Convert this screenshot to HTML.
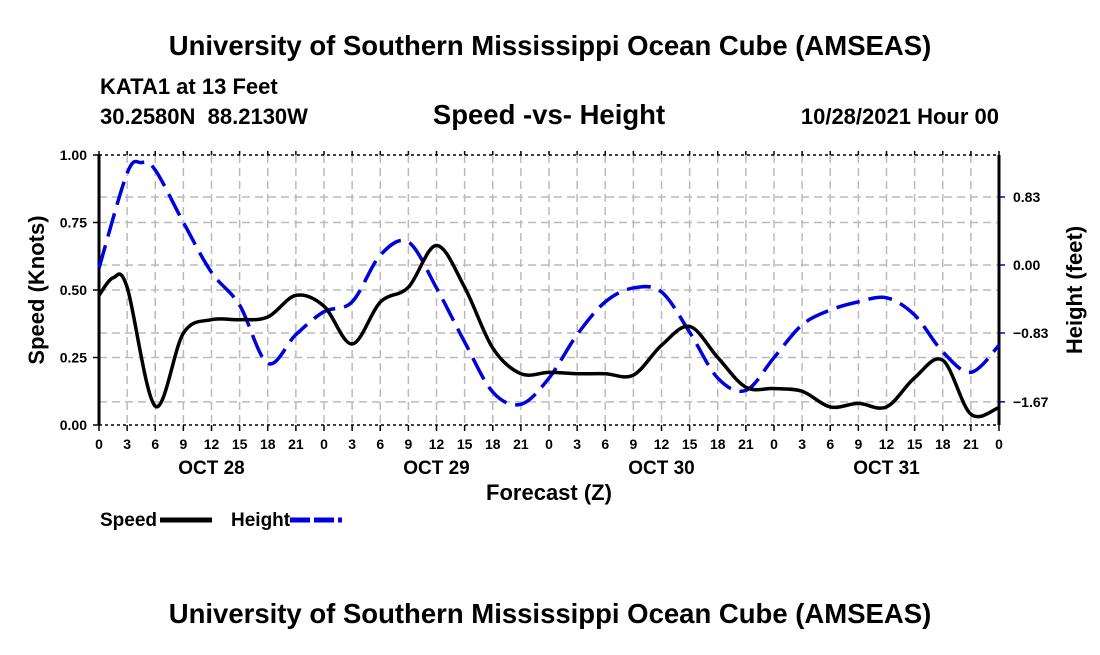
<!DOCTYPE html>
<html><head><meta charset="utf-8"><style>
body{margin:0;background:#fff;}
svg text{font-family:"Liberation Sans",Arial,sans-serif;font-weight:bold;fill:#000;}
</style></head><body>
<svg id="c" width="1100" height="650" viewBox="0 0 1100 650" xmlns="http://www.w3.org/2000/svg">
<text x="550" y="55" font-size="27.5" text-anchor="middle">University of Southern Mississippi Ocean Cube (AMSEAS)</text>
<text x="100" y="94" font-size="22">KATA1 at 13 Feet</text>
<text x="100" y="124" font-size="22" xml:space="preserve">30.2580N  88.2130W</text>
<text x="549" y="124" font-size="27.5" text-anchor="middle">Speed -vs- Height</text>
<text x="999" y="124" font-size="22" text-anchor="end">10/28/2021 Hour 00</text>
<text x="549" y="500" font-size="22" text-anchor="middle">Forecast (Z)</text>
<text transform="translate(44,290) rotate(-90)" font-size="22" text-anchor="middle">Speed (Knots)</text>
<text transform="translate(1082,290) rotate(-90)" font-size="22" text-anchor="middle">Height (feet)</text>
<g>
<text x="100" y="526" font-size="19">Speed</text>
<line x1="160" y1="520" x2="212" y2="520" stroke="#000" stroke-width="5"/>
<text x="231" y="526" font-size="19">Height</text>
<line x1="290" y1="520" x2="342" y2="520" stroke="#0000dd" stroke-width="5" stroke-dasharray="20,4"/>
</g>
<text x="550" y="623" font-size="27.5" text-anchor="middle">University of Southern Mississippi Ocean Cube (AMSEAS)</text>
<g id="plot"></g>
</svg>
<script>
const speedHours=[0,1.5,3,6,9,12,15,18,21,24,27,30,33,36,39,42,45,48,51,54,57,60,63,66,69,72,75,78,81,84,87,90,93,96];
const speedValues=[0.48,0.545,0.51,0.07,0.34,0.39,0.39,0.40,0.48,0.44,0.30,0.455,0.51,0.665,0.51,0.285,0.19,0.195,0.19,0.19,0.185,0.295,0.365,0.25,0.14,0.135,0.125,0.067,0.08,0.067,0.175,0.24,0.04,0.065];
const heightHours=[0,3,4.5,6,9,12,15,18,21,24,27,30,33,36,39,42,45,48,51,54,57,60,63,66,69,72,75,78,81,84,87,90,93,96];
const heightValues=[-0.04,1.12,1.25,1.16,0.52,-0.09,-0.49,-1.20,-0.85,-0.57,-0.45,0.12,0.28,-0.28,-0.94,-1.55,-1.70,-1.38,-0.85,-0.45,-0.28,-0.33,-0.82,-1.38,-1.53,-1.13,-0.73,-0.55,-0.45,-0.40,-0.61,-1.06,-1.31,-0.98];
const speedTicks=[0,0.25,0.5,0.75,1.0];
const speedTickLabels=["0.00","0.25","0.50","0.75","1.00"];
const heightTicks=[0.83,0,-0.83,-1.67];
const heightTickLabels=["0.83","0.00","\u22120.83","\u22121.67"];
const hourLabels=["0","3","6","9","12","15","18","21","0","3","6","9","12","15","18","21","0","3","6","9","12","15","18","21","0","3","6","9","12","15","18","21","0"];
const dayLabels=["OCT 28","OCT 29","OCT 30","OCT 31"];

const L=99,R=999,T=155,B=425;
const xS=h=>L+(R-L)*h/96;
const yS=v=>B-(B-T)*v;
const yH=v=>265-v*68/0.83;
const NS="http://www.w3.org/2000/svg";
const g=document.getElementById('plot');
function mk(tag,at){const e=document.createElementNS(NS,tag);for(const k in at)e.setAttribute(k,at[k]);g.appendChild(e);return e;}
hourLabels.forEach((l,i)=>{const x=xS(i*3);
 const e=mk('line',{x1:x,y1:T,x2:x,y2:B,stroke:'#bbb','stroke-width':1.5,'stroke-dasharray':'8,5'});
 
 
 const t=mk('line',{x1:x,y1:B,x2:x,y2:B+6,stroke:'#000','stroke-width':1.5});
 
 
 const tt=mk('line',{x1:x,y1:T,x2:x,y2:T-4,stroke:'#000','stroke-width':1.5});
 
 
 const tx=mk('text',{x:x,y:449,'font-size':14,'text-anchor':'middle'});tx.textContent=l;
 
 
});
dayLabels.forEach((d,i)=>{const tx=mk('text',{x:xS(12+24*i),y:474,'font-size':19,'text-anchor':'middle'});tx.textContent=d;
 
 });
speedTicks.forEach((v,i)=>{const y=yS(v);
 if(v>0&&v<1){const e=mk('line',{x1:L,y1:y,x2:R,y2:y,stroke:'#bbb','stroke-width':1.5,'stroke-dasharray':'8,5'});
 
 }
 const t=mk('line',{x1:L-6,y1:y,x2:L,y2:y,stroke:'#000','stroke-width':1.5});
 
 
 const tx=mk('text',{x:L-12,y:y+5,'font-size':14,'text-anchor':'end'});tx.textContent=speedTickLabels[i];
 
 });
heightTicks.forEach((v,i)=>{const y=yH(v);
 const e=mk('line',{x1:L,y1:y,x2:R,y2:y,stroke:'#bbb','stroke-width':1.5,'stroke-dasharray':'8,5'});
 
 
 const t=mk('line',{x1:R,y1:y,x2:R+6,y2:y,stroke:'#0000dd','stroke-width':1.5});
 
 
 const tx=mk('text',{x:R+14,y:y+5,'font-size':14});tx.textContent=heightTickLabels[i];
 
 });
const fr=[['frame-left',L,T,L,B,3],['frame-right',R,T,R,B,3],['frame-top',L,T,R,T,1.5],['frame-bottom',L,B,R,B,1.5]];
fr.forEach(f=>{const e=mk('line',{x1:f[1],y1:f[2],x2:f[3],y2:f[4],stroke:'#000','stroke-width':f[5],'stroke-dasharray':f[5]<2?'3,3':'none'});
 
 });
function path(xs,ys){const p=xs.map((h,i)=>[xS(h),ys[i]]);let d='M'+p[0][0]+','+p[0][1];
 for(let i=0;i<p.length-1;i++){const p0=p[Math.max(0,i-1)],p1=p[i],p2=p[i+1],p3=p[Math.min(p.length-1,i+2)];
 const c1=[p1[0]+(p2[0]-p0[0])/6,p1[1]+(p2[1]-p0[1])/6],c2=[p2[0]-(p3[0]-p1[0])/6,p2[1]-(p3[1]-p1[1])/6];
 d+=` C${c1[0]},${c1[1]} ${c2[0]},${c2[1]} ${p2[0]},${p2[1]}`;}return d;}
const hp=mk('path',{d:path(heightHours,heightValues.map(yH)),fill:'none',stroke:'#0000dd','stroke-width':3.5,'stroke-dasharray':'24,9'});


const sp=mk('path',{d:path(speedHours,speedValues.map(yS)),fill:'none',stroke:'#000','stroke-width':3.5});


</script>
</body></html>
